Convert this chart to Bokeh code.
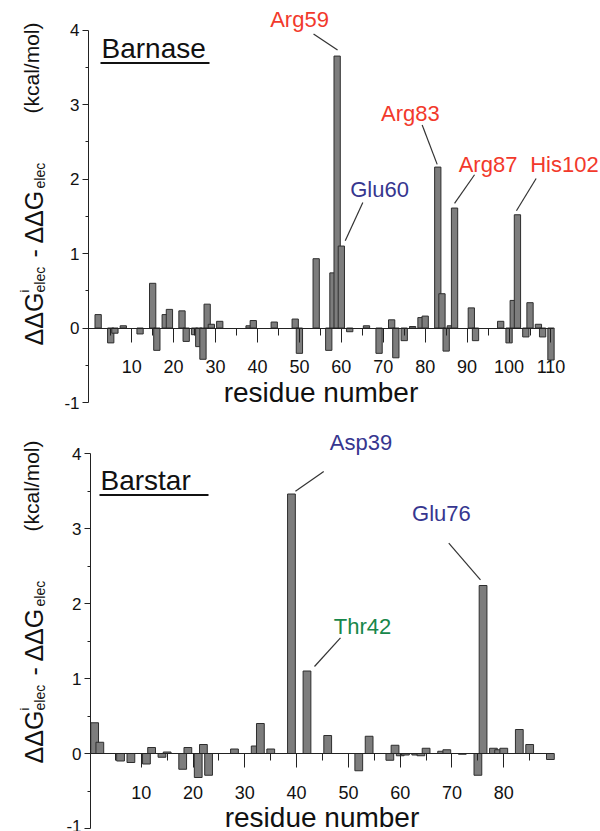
import math
from bokeh.plotting import figure
from bokeh.models import Range1d, FixedTicker, Label
from bokeh.layouts import column
from bokeh.embed import file_html
from bokeh.resources import INLINE

# ---------------- data ----------------
barnase_res = [2, 5, 6, 8, 12, 15, 16, 18, 19, 22, 23, 25, 26, 27, 28, 29, 31, 38, 39,
               44, 49, 50, 54, 57, 58, 59, 60, 62, 66, 69, 72, 73, 75, 77, 79, 80,
               83, 84, 85, 86, 87, 91, 92, 98, 100, 101, 102, 104, 105, 107, 108, 110]
barnase_val = [0.18, -0.20, -0.07, 0.03, -0.08, 0.60, -0.30, 0.18, 0.25, 0.23, -0.18, -0.09, -0.25, -0.42, 0.32, 0.05, 0.09, 0.03, 0.10,
               0.08, 0.12, -0.34, 0.93, -0.30, 0.74, 3.65, 1.10, -0.05, 0.03, -0.34, 0.11, -0.40, -0.17, 0.02, 0.14, 0.16,
               2.16, 0.46, -0.31, 0.03, 1.61, 0.27, -0.17, 0.09, -0.20, 0.37, 1.52, -0.12, 0.34, 0.05, -0.12, -0.43]

barstar_res = [1, 2, 6, 8, 11, 12, 14, 15, 18, 19, 21, 22, 23, 28, 32, 33, 35, 39, 42, 46,
               52, 54, 58, 59, 60, 61, 63, 64, 65, 68, 69, 72, 75, 76, 78, 79, 80, 83, 85, 89]
barstar_val = [0.41, 0.15, -0.10, -0.12, -0.14, 0.08, -0.05, 0.02, -0.21, 0.08, -0.32, 0.12, -0.29, 0.06, 0.10, 0.40, 0.06, 3.46, 1.10, 0.24,
               -0.23, 0.23, -0.09, 0.11, -0.03, -0.02, -0.02, -0.03, 0.07, 0.03, 0.05, -0.01, -0.29, 2.24, 0.07, 0.05, 0.07, 0.32, 0.12, -0.08]

barnase_xticks = [10, 20, 30, 40, 50, 60, 70, 80, 90, 100, 110]
barnase_xminor = [5, 15, 25, 35, 45, 55, 65, 75, 85, 95, 105]
barstar_xticks = [10, 20, 30, 40, 50, 60, 70, 80]
barstar_xminor = [5, 15, 25, 35, 45, 55, 65, 75, 85]
y_ticks = [-1, 0, 1, 2, 3, 4]
y_tick_labels = ["-1", "0", "1", "2", "3", "4"]
y_minor = [-0.5, 0.5, 1.5, 2.5, 3.5]

barnase_marked = ["Arg59", "Glu60", "Arg83", "Arg87", "His102"]
barnase_marked_res = [59, 60, 83, 87, 102]
barstar_marked = ["Asp39", "Thr42", "Glu76"]
barstar_marked_res = [39, 42, 76]

# ---------------- styles ----------------
FONT = "Liberation Sans"
RED = "#f2392b"
BLUE = "#36368f"
GREEN = "#17874a"
BAR_FILL = "#7d7d7d"
BAR_LINE = "#2e2e2e"
AXIS = "#222222"
TXT = "#111111"

# color, label centre offset, leader start offset, leader end offset (px, relative to bar top, y down)
barnase_style = {
    "Arg59": (RED, (-37.6, -37.0), (-23.6, -22.0), (0.4, -6.0)),
    "Glu60": (BLUE, (38.2, -56.3), (21.5, -43.6), (3.9, -5.3)),
    "Arg83": (RED, (-27.3, -54.0), (-15.6, -42.0), (-0.6, -2.7)),
    "Arg87": (RED, (33.5, -43.3), (20.0, -33.3), (0.0, -4.6)),
    "His102": (RED, (47.0, -50.0), (18.7, -36.3), (-1.0, -4.0)),
}
barstar_style = {
    "Asp39": (BLUE, (69.5, -51.5), (32.3, -22.5), (4.0, -2.8)),
    "Thr42": (GREEN, (55.5, -44.5), (33.5, -33.2), (7.5, -4.5)),
    "Glu76": (BLUE, (-41.6, -72.0), (-34.3, -42.3), (-2.6, -5.7)),
}

# rotated y-label pieces: text, font px, centre-line x px, start offset along text (px, y down)
ylabel_pieces = [
    ("\u0394\u0394G", 25, 33, 0),
    ("i", 13, 24, -53),
    ("elec", 14, 39, -53),
    ("- \u0394\u0394G", 25, 33, -88),
    ("elec", 14, 39, -157),
    ("(kcal/mol)", 21, 30.5, -232),
]


def make_panel(res, vals, xin, left, right, ytop, sy, height, xticks, xminor,
               title, title_xy, marked, marked_res, styles, ylab_base_y):
    W = 600
    sx = (right - left) / (xin[1] - xin[0])
    x0 = xin[0] - left / sx
    x1 = xin[1] + (W - right) / sx
    y1 = ytop
    y0 = ytop - height / sy
    p = figure(width=W, height=height, x_range=Range1d(x0, x1), y_range=Range1d(y0, y1),
               output_backend="svg", toolbar_location=None, min_border=0)
    p.min_border_left = 0
    p.min_border_right = 0
    p.min_border_top = 0
    p.min_border_bottom = 0
    p.outline_line_color = None
    p.xgrid.visible = False
    p.ygrid.visible = False

    def dx(px):
        return x0 + px / sx

    def dy(py):
        return y1 - py / sy

    p.vbar(x=res, top=vals, bottom=0, width=1.5, fill_color=BAR_FILL,
           line_color=BAR_LINE, line_width=1)

    # x axis drawn along y = 0
    xa = p.xaxis[0]
    xa.fixed_location = 0
    xa.bounds = xin
    xa.ticker = FixedTicker(ticks=xticks, minor_ticks=xminor)
    xa.axis_line_color = AXIS
    xa.major_tick_line_color = AXIS
    xa.minor_tick_line_color = AXIS
    xa.major_tick_in = 0
    xa.major_tick_out = 14
    xa.minor_tick_in = 0
    xa.minor_tick_out = 7
    xa.major_label_text_font = FONT
    xa.major_label_text_font_size = "18px"
    xa.major_label_text_color = TXT
    xa.major_label_standoff = 18
    xa.axis_label = "residue number"
    xa.axis_label_text_font = FONT
    xa.axis_label_text_font_size = "28px"
    xa.axis_label_text_font_style = "normal"
    xa.axis_label_text_color = TXT
    xa.axis_label_standoff = 0

    ya = p.yaxis[0]
    ya.fixed_location = xin[0]
    ya.ticker = FixedTicker(ticks=y_ticks, minor_ticks=y_minor)
    ya.major_label_overrides = {t: s for t, s in zip(y_ticks, y_tick_labels)}
    ya.bounds = (-1, 4)
    ya.axis_line_color = AXIS
    ya.major_tick_line_color = AXIS
    ya.minor_tick_line_color = AXIS
    ya.major_tick_in = 0
    ya.major_tick_out = 6
    ya.minor_tick_in = 0
    ya.minor_tick_out = 3
    ya.major_label_text_font = FONT
    ya.major_label_text_font_size = "17px"
    ya.major_label_text_color = TXT
    ya.major_label_standoff = 3

    # title with underline
    tx, tb = title_xy
    p.add_layout(Label(x=dx(tx), y=dy(tb - 10), text=title, text_font=FONT,
                       text_font_size="28px", text_color=TXT,
                       text_align="left", text_baseline="middle"))
    p.segment(x0=[dx(tx - 1)], y0=[dy(tb + 4.5)], x1=[dx(tx + 108)], y1=[dy(tb + 4.5)],
              line_color=TXT, line_width=2)

    # residue annotations
    lookup = dict(zip(res, vals))
    for name, r in zip(marked, marked_res):
        color, (lx, ly), (s0x, s0y), (s1x, s1y) = styles[name]
        v = lookup[r]
        p.add_layout(Label(x=r, y=v, x_offset=lx, y_offset=-ly, text=name,
                           text_font=FONT, text_font_size="22px", text_color=color,
                           text_align="center", text_baseline="middle"))
        p.segment(x0=[r + s0x / sx], y0=[v - s0y / sy], x1=[r + s1x / sx], y1=[v - s1y / sy],
                  line_color="#333333", line_width=1.2)

    # rotated y-axis label
    for text, size, cx, off in ylabel_pieces:
        p.add_layout(Label(x=dx(cx), y=dy(ylab_base_y + off), text=text, angle=math.pi / 2,
                           text_font=FONT, text_font_size=f"{size}px", text_color=TXT,
                           text_align="left", text_baseline="middle"))
    return p


p1 = make_panel(barnase_res, barnase_val, (-0.3, 110.6), 88, 553, 4.396, 74.5, 420,
                barnase_xticks, barnase_xminor, "Barnase", (101, 58),
                barnase_marked, barnase_marked_res, barnase_style, 345)
p2 = make_panel(barstar_res, barstar_val, (0.2, 89.6), 90, 553, 4.44, 75.0, 411,
                barstar_xticks, barstar_xminor, "Barstar", (100, 490 - 420),
                barstar_marked, barstar_marked_res, barstar_style, 763 - 420)

layout = column(p1, p2, spacing=0)
open("out.html", "w").write(file_html(layout, INLINE))
